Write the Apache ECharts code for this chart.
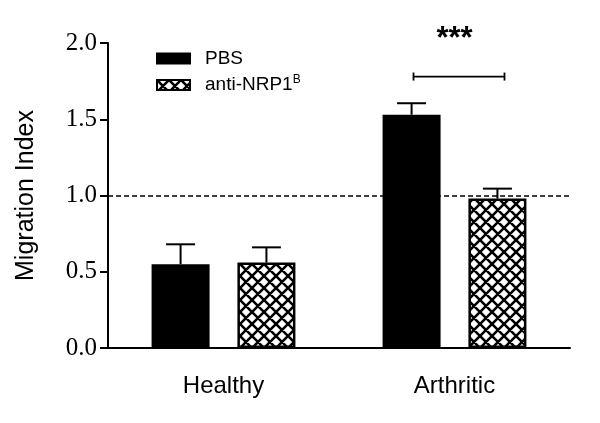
<!DOCTYPE html>
<html>
<head>
<meta charset="utf-8">
<script src="https://cdn.jsdelivr.net/npm/echarts@6/dist/echarts.min.js"></script>
<style>
  html, body { margin: 0; padding: 0; background: #fff; }
  #chart { width: 600px; height: 423px; }
</style>
</head>
<body>
<div id="chart"></div>
<script>
  // 数据
  var categories = ['Healthy', 'Arthritic'];
  var pbsMean = [0.55, 1.53];
  var pbsSem = [0.13, 0.075];
  var antiMean = [0.56, 0.98];
  var antiSem = [0.10, 0.065];
  var yTicks = [0, 0.5, 1.0, 1.5, 2.0];
  var refLine = 1.0;
  // significance bracket: [category, y, stars]
  var sigData = [[1, 1.78, '***']];

  var barW = 58;
  var gapRatio = 0.48;
  var half = barW * (1 + gapRatio) / 2;

  // cross hatch pattern
  function makeHatch () {
    var s = 12;
    var c = document.createElement('canvas');
    c.width = s; c.height = s;
    var ctx = c.getContext('2d');
    ctx.fillStyle = '#fff';
    ctx.fillRect(0, 0, s, s);
    ctx.strokeStyle = '#000';
    ctx.lineWidth = 2.6;
    ctx.beginPath();
    [-s, 0, s].forEach(function (dx) {
      ctx.moveTo(dx, 0); ctx.lineTo(dx + s, s);
      ctx.moveTo(dx + s, 0); ctx.lineTo(dx, s);
    });
    ctx.stroke();
    return c;
  }
  var hatch = { image: makeHatch(), repeat: 'repeat' };

  function errRender (offset) {
    return function (params, api) {
      var p = api.coord([api.value(0), api.value(1)]);
      var t = api.coord([api.value(0), api.value(1) + api.value(2)]);
      var x = p[0] + offset;
      var st = { stroke: '#000', lineWidth: 2 };
      return {
        type: 'group',
        children: [
          { type: 'line', shape: { x1: x, y1: p[1], x2: x, y2: t[1] }, style: st },
          { type: 'line', shape: { x1: x - 14.5, y1: t[1], x2: x + 14.5, y2: t[1] }, style: st }
        ]
      };
    };
  }

  var chart = echarts.init(document.getElementById('chart'), null, { renderer: 'canvas' });
  var option = {
    animation: false,
    backgroundColor: '#fff',
    grid: { left: 108, right: 30, top: 43, bottom: 75 },
    legend: {
      orient: 'vertical',
      left: 151,
      top: 44,
      icon: 'rect',
      itemWidth: 33,
      itemHeight: 10,
      itemGap: 6,
      selectedMode: false,
      data: ['PBS', 'anti-NRP1'],
      formatter: function (name) {
        return name === 'anti-NRP1' ? name + '{sup|B}' : name;
      },
      textStyle: {
        fontFamily: 'Liberation Sans',
        fontSize: 19,
        color: '#000',
        padding: [0, 0, 0, 10],
        rich: {
          sup: { fontFamily: 'Liberation Sans', fontSize: 12, color: '#000', padding: [0, 0, 10, 0] }
        }
      }
    },
    xAxis: {
      type: 'category',
      data: categories,
      axisLine: { lineStyle: { color: '#000', width: 2 } },
      axisTick: { alignWithLabel: true, length: 8, lineStyle: { color: '#000', width: 2 } },
      axisLabel: { fontFamily: 'Liberation Sans', fontSize: 24, color: '#000', margin: 26 }
    },
    yAxis: {
      type: 'value',
      min: yTicks[0],
      max: yTicks[yTicks.length - 1],
      interval: 0.5,
      name: 'Migration Index',
      nameLocation: 'middle',
      nameGap: 69,
      nameTextStyle: { fontFamily: 'Liberation Sans', fontSize: 25, color: '#000' },
      axisLine: { show: true, lineStyle: { color: '#000', width: 2 } },
      axisTick: { show: true, length: 8, lineStyle: { color: '#000', width: 2 } },
      splitLine: { show: false },
      axisLabel: {
        fontFamily: 'Liberation Serif', fontSize: 25, color: '#000', margin: 11,
        formatter: function (v) { return v.toFixed(1); }
      }
    },
    series: [
      {
        name: 'PBS',
        type: 'bar',
        barWidth: barW,
        barGap: (gapRatio * 100) + '%',
        data: pbsMean,
        itemStyle: { color: '#000', borderColor: '#000', borderWidth: 2 },
        markLine: {
          silent: true,
          symbol: ['none', 'none'],
          label: { show: false },
          lineStyle: { color: '#000', type: [5, 3], width: 1.5 },
          data: [{ yAxis: refLine }]
        }
      },
      {
        name: 'anti-NRP1',
        type: 'bar',
        barWidth: barW,
        data: antiMean,
        itemStyle: { color: hatch, borderColor: '#000', borderWidth: 2.5 }
      },
      {
        type: 'custom',
        z: 3,
        renderItem: errRender(-half),
        data: categories.map(function (c, i) { return [i, pbsMean[i], pbsSem[i]]; })
      },
      {
        type: 'custom',
        z: 3,
        renderItem: errRender(half),
        data: categories.map(function (c, i) { return [i, antiMean[i], antiSem[i]]; })
      },
      {
        type: 'custom',
        z: 3,
        clip: false,
        renderItem: function (params, api) {
          var p = api.coord([api.value(0), api.value(1)]);
          var st = { stroke: '#000', lineWidth: 1.8 };
          var x1 = p[0] - 41, x2 = p[0] + 50;
          return {
            type: 'group',
            children: [
              { type: 'line', shape: { x1: x1, y1: p[1], x2: x2, y2: p[1] }, style: st },
              { type: 'line', shape: { x1: x1, y1: p[1] - 4, x2: x1, y2: p[1] + 4 }, style: st },
              { type: 'line', shape: { x1: x2, y1: p[1] - 4, x2: x2, y2: p[1] + 4 }, style: st },
              {
                type: 'text',
                style: {
                  text: sigData[params.dataIndex][2],
                  x: p[0], y: p[1] - 37,
                  align: 'center', verticalAlign: 'middle',
                  font: 'bold 31px "Liberation Sans"', fill: '#000'
                }
              }
            ]
          };
        },
        data: sigData.map(function (d) { return [d[0], d[1]]; })
      }
    ]
  };
  chart.setOption(option);
</script>
</body>
</html>
